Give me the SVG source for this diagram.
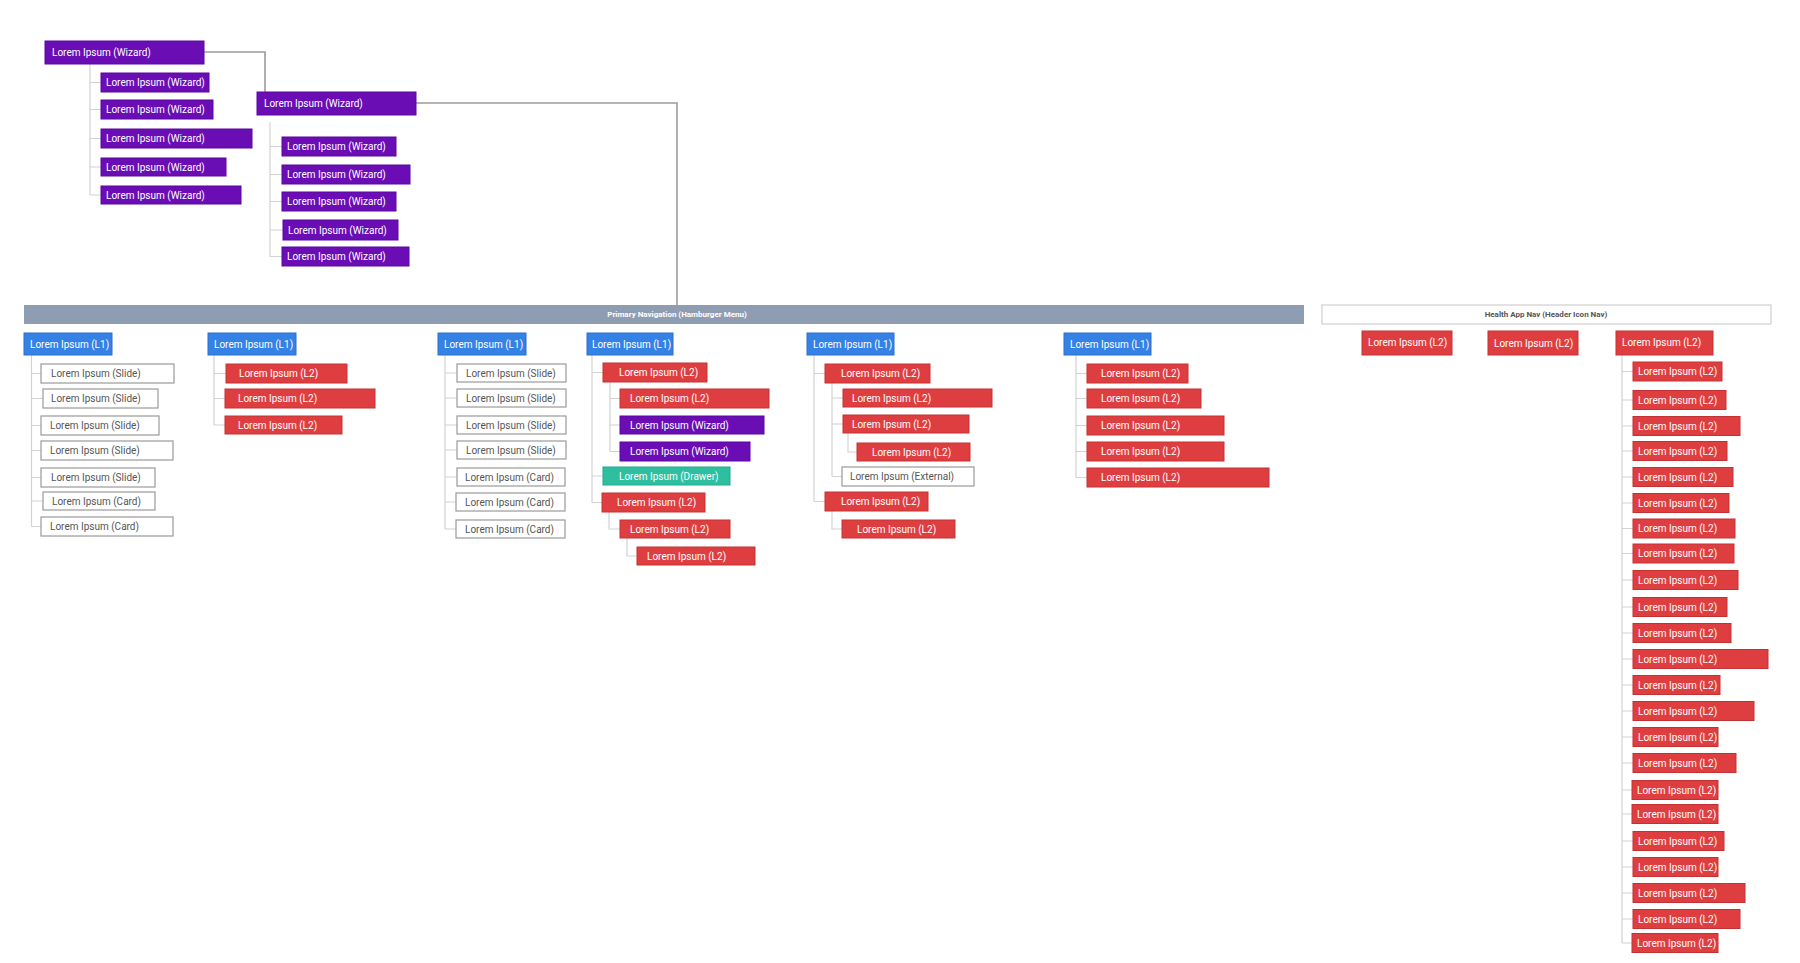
<svg xmlns="http://www.w3.org/2000/svg" width="1800" height="963" viewBox="0 0 1800 963">
<style>
text{font-family:Roboto,"Liberation Sans",Arial,sans-serif;font-size:10px}
.wz rect{fill:#6A0DB5;stroke:#5A089E;stroke-width:1}
.l1 rect{fill:#3582E6;stroke:#2C6FCB;stroke-width:1}
.l2 rect{fill:#DF3E40;stroke:#C23234;stroke-width:1}
.dr rect{fill:#2EBFA0;stroke:#25A88C;stroke-width:1}
.wh rect{fill:#FFFFFF;stroke:#9A9A9A;stroke-width:1.2}
.wz text,.l1 text,.l2 text,.dr text{fill:#FFFFFF}
.wh text{fill:#555555}
.tree{fill:none;stroke:#D2D2D2;stroke-width:1.2}
.main{fill:none;stroke:#9C9C9C;stroke-width:1.6}
.bar text{font-size:8px;font-weight:bold}
</style>
<rect width="1800" height="963" fill="#FFFFFF"/>

<g id="connectors">
<path class="main" d="M204 52H265V92M416 103H677V305"/>
<path class="tree" d="M90 64V195M90 82.5H101M90 109.5H101M90 138.5H101M90 167H101M90 195H101"/>
<path class="tree" d="M270 122V256.5M270 146.5H282M270 174.5H282M270 201.5H282M270 230H283M270 256.5H282"/>
<path class="tree" d="M31.5 355V526.5M31.5 373.5H41M31.5 398.5H43M31.5 425.5H41M31.5 450.5H41M31.5 477.5H41M31.5 501H43M31.5 526.5H41"/>
<path class="tree" d="M214 355V425M214 373.5H226M214 398.5H225M214 425H225"/>
<path class="tree" d="M445 355V529M445 373H457M445 398H457M445 425H457M445 450H457M445 477H457M445 502H456M445 529H456"/>
<path class="tree" d="M592 355V502.5M592 372.5H603M592 476H603M592 502.5H602M610 382V451.5M610 398.5H620M610 425H620M610 451.5H620M609 512V529H620M627 538V556H637"/>
<path class="tree" d="M814 355V501.5M814 373.5H825M814 501.5H825M832 383V476.5M832 398H843M832 424H843M832 476.5H842M848 433V452H857M832 511V529H842"/>
<path class="tree" d="M1076 355V477.5M1076 373.5H1087M1076 398.5H1087M1076 425.5H1087M1076 451.5H1087M1076 477.5H1087"/>
<path class="tree" d="M1622 355V943M1622 371.5H1633M1622 400H1633M1622 426H1633M1622 451H1633M1622 477H1633M1622 503H1633M1622 528.5H1633M1622 553.5H1633M1622 580H1633M1622 607H1633M1622 633H1633M1622 659H1633M1622 685H1633M1622 711H1633M1622 737H1633M1622 763H1633M1622 790H1633M1622 814H1633M1622 841H1633M1622 867H1633M1622 893H1633M1622 919H1633M1622 943H1633"/>
</g>

<!-- top wizard trees -->
<g id="wizard-root" class="wz"><rect x="45" y="41" width="159" height="23"/><text x="52" y="56">Lorem Ipsum (Wizard)</text></g>
<g id="wizard-root-c1" class="wz"><rect x="101" y="73" width="108" height="19"/><text x="106" y="86">Lorem Ipsum (Wizard)</text></g>
<g id="wizard-root-c2" class="wz"><rect x="101" y="100" width="112" height="19"/><text x="106" y="113">Lorem Ipsum (Wizard)</text></g>
<g id="wizard-root-c3" class="wz"><rect x="101" y="129" width="151" height="19"/><text x="106" y="142">Lorem Ipsum (Wizard)</text></g>
<g id="wizard-root-c4" class="wz"><rect x="101" y="158" width="125" height="18"/><text x="106" y="170.5">Lorem Ipsum (Wizard)</text></g>
<g id="wizard-root-c5" class="wz"><rect x="101" y="186" width="140" height="18"/><text x="106" y="198.5">Lorem Ipsum (Wizard)</text></g>

<g id="wizard-2" class="wz"><rect x="257" y="92" width="159" height="23"/><text x="264" y="107">Lorem Ipsum (Wizard)</text></g>
<g id="wizard-2-c1" class="wz"><rect x="282" y="137" width="114" height="19"/><text x="287" y="150">Lorem Ipsum (Wizard)</text></g>
<g id="wizard-2-c2" class="wz"><rect x="282" y="165" width="128" height="19"/><text x="287" y="178">Lorem Ipsum (Wizard)</text></g>
<g id="wizard-2-c3" class="wz"><rect x="282" y="192" width="114" height="19"/><text x="287" y="205">Lorem Ipsum (Wizard)</text></g>
<g id="wizard-2-c4" class="wz"><rect x="283" y="220" width="115" height="20"/><text x="288" y="233.5">Lorem Ipsum (Wizard)</text></g>
<g id="wizard-2-c5" class="wz"><rect x="282" y="247" width="127" height="19"/><text x="287" y="260">Lorem Ipsum (Wizard)</text></g>

<!-- bars -->
<g id="primary-nav" class="bar"><rect x="24" y="305" width="1280" height="19" fill="#8F9DB3"/><text x="677" y="317" text-anchor="middle" fill="#FFFFFF">Primary Navigation (Hamburger Menu)</text></g>
<g id="health-nav" class="bar"><rect x="1322" y="305" width="449" height="19" fill="#FFFFFF" stroke="#CFCFCF" stroke-width="1.2"/><text x="1546" y="317" text-anchor="middle" fill="#555555">Health App Nav (Header Icon Nav)</text></g>

<!-- column 1 -->
<g id="c1-l1" class="l1"><rect x="24" y="333" width="88" height="22"/><text x="30" y="347.5">Lorem Ipsum (L1)</text></g>
<g id="c1-s1" class="wh"><rect x="41" y="364" width="133" height="19"/><text x="51" y="377">Lorem Ipsum (Slide)</text></g>
<g id="c1-s2" class="wh"><rect x="43" y="389" width="115" height="19"/><text x="51" y="402">Lorem Ipsum (Slide)</text></g>
<g id="c1-s3" class="wh"><rect x="41" y="416" width="118" height="19"/><text x="50" y="429">Lorem Ipsum (Slide)</text></g>
<g id="c1-s4" class="wh"><rect x="41" y="441" width="132" height="19"/><text x="50" y="454">Lorem Ipsum (Slide)</text></g>
<g id="c1-s5" class="wh"><rect x="41" y="468" width="114" height="19"/><text x="51" y="481">Lorem Ipsum (Slide)</text></g>
<g id="c1-c6" class="wh"><rect x="43" y="492" width="112" height="18"/><text x="52" y="504.5">Lorem Ipsum (Card)</text></g>
<g id="c1-c7" class="wh"><rect x="41" y="517" width="132" height="19"/><text x="50" y="530">Lorem Ipsum (Card)</text></g>

<!-- column 2 -->
<g id="c2-l1" class="l1"><rect x="208" y="333" width="88" height="22"/><text x="214" y="347.5">Lorem Ipsum (L1)</text></g>
<g id="c2-a" class="l2"><rect x="226" y="364" width="121" height="19"/><text x="239" y="377">Lorem Ipsum (L2)</text></g>
<g id="c2-b" class="l2"><rect x="225" y="389" width="150" height="19"/><text x="238" y="402">Lorem Ipsum (L2)</text></g>
<g id="c2-c" class="l2"><rect x="225" y="416" width="117" height="18"/><text x="238" y="428.5">Lorem Ipsum (L2)</text></g>

<!-- column 3 -->
<g id="c3-l1" class="l1"><rect x="438" y="333" width="88" height="22"/><text x="444" y="347.5">Lorem Ipsum (L1)</text></g>
<g id="c3-s1" class="wh"><rect x="457" y="364" width="109" height="18"/><text x="466" y="376.5">Lorem Ipsum (Slide)</text></g>
<g id="c3-s2" class="wh"><rect x="457" y="389" width="109" height="18"/><text x="466" y="401.5">Lorem Ipsum (Slide)</text></g>
<g id="c3-s3" class="wh"><rect x="457" y="416" width="109" height="18"/><text x="466" y="428.5">Lorem Ipsum (Slide)</text></g>
<g id="c3-s4" class="wh"><rect x="457" y="441" width="109" height="18"/><text x="466" y="453.5">Lorem Ipsum (Slide)</text></g>
<g id="c3-c5" class="wh"><rect x="457" y="468" width="108" height="18"/><text x="465" y="480.5">Lorem Ipsum (Card)</text></g>
<g id="c3-c6" class="wh"><rect x="456" y="493" width="109" height="18"/><text x="465" y="505.5">Lorem Ipsum (Card)</text></g>
<g id="c3-c7" class="wh"><rect x="456" y="520" width="109" height="18"/><text x="465" y="532.5">Lorem Ipsum (Card)</text></g>

<!-- column 4 -->
<g id="c4-l1" class="l1"><rect x="587" y="333" width="86" height="22"/><text x="592" y="347.5">Lorem Ipsum (L1)</text></g>
<g id="c4-a" class="l2"><rect x="603" y="363" width="104" height="19"/><text x="619" y="376">Lorem Ipsum (L2)</text></g>
<g id="c4-a1" class="l2"><rect x="620" y="389" width="149" height="19"/><text x="630" y="402">Lorem Ipsum (L2)</text></g>
<g id="c4-a2" class="wz"><rect x="620" y="416" width="144" height="18"/><text x="630" y="428.5">Lorem Ipsum (Wizard)</text></g>
<g id="c4-a3" class="wz"><rect x="620" y="442" width="130" height="19"/><text x="630" y="455">Lorem Ipsum (Wizard)</text></g>
<g id="c4-b" class="dr"><rect x="603" y="467" width="127" height="18"/><text x="619" y="479.5">Lorem Ipsum (Drawer)</text></g>
<g id="c4-c" class="l2"><rect x="602" y="493" width="103" height="19"/><text x="617" y="506">Lorem Ipsum (L2)</text></g>
<g id="c4-c1" class="l2"><rect x="620" y="520" width="110" height="18"/><text x="630" y="532.5">Lorem Ipsum (L2)</text></g>
<g id="c4-c1a" class="l2"><rect x="637" y="547" width="118" height="18"/><text x="647" y="559.5">Lorem Ipsum (L2)</text></g>

<!-- column 5 -->
<g id="c5-l1" class="l1"><rect x="807" y="333" width="87" height="22"/><text x="813" y="347.5">Lorem Ipsum (L1)</text></g>
<g id="c5-a" class="l2"><rect x="825" y="364" width="105" height="19"/><text x="841" y="377">Lorem Ipsum (L2)</text></g>
<g id="c5-a1" class="l2"><rect x="843" y="389" width="149" height="18"/><text x="852" y="401.5">Lorem Ipsum (L2)</text></g>
<g id="c5-a2" class="l2"><rect x="843" y="415" width="126" height="18"/><text x="852" y="427.5">Lorem Ipsum (L2)</text></g>
<g id="c5-a2a" class="l2"><rect x="857" y="443" width="113" height="18"/><text x="872" y="455.5">Lorem Ipsum (L2)</text></g>
<g id="c5-a3" class="wh"><rect x="842" y="467" width="132" height="19"/><text x="850" y="480">Lorem Ipsum (External)</text></g>
<g id="c5-b" class="l2"><rect x="825" y="492" width="103" height="19"/><text x="841" y="505">Lorem Ipsum (L2)</text></g>
<g id="c5-b1" class="l2"><rect x="842" y="520" width="113" height="18"/><text x="857" y="532.5">Lorem Ipsum (L2)</text></g>

<!-- column 6 -->
<g id="c6-l1" class="l1"><rect x="1064" y="333" width="87" height="22"/><text x="1070" y="347.5">Lorem Ipsum (L1)</text></g>
<g id="c6-a" class="l2"><rect x="1087" y="364" width="101" height="19"/><text x="1101" y="377">Lorem Ipsum (L2)</text></g>
<g id="c6-b" class="l2"><rect x="1087" y="389" width="114" height="19"/><text x="1101" y="402">Lorem Ipsum (L2)</text></g>
<g id="c6-c" class="l2"><rect x="1087" y="416" width="137" height="19"/><text x="1101" y="429">Lorem Ipsum (L2)</text></g>
<g id="c6-d" class="l2"><rect x="1087" y="442" width="137" height="19"/><text x="1101" y="455">Lorem Ipsum (L2)</text></g>
<g id="c6-e" class="l2"><rect x="1087" y="468" width="182" height="19"/><text x="1101" y="481">Lorem Ipsum (L2)</text></g>

<!-- health app nav -->
<g id="h-1" class="l2"><rect x="1362" y="331" width="90" height="24"/><text x="1368" y="346">Lorem Ipsum (L2)</text></g>
<g id="h-2" class="l2"><rect x="1488" y="331" width="90" height="24"/><text x="1494" y="346.5">Lorem Ipsum (L2)</text></g>
<g id="h-3" class="l2"><rect x="1616" y="331" width="97" height="24"/><text x="1622" y="346">Lorem Ipsum (L2)</text></g>
<g id="h-3-01" class="l2"><rect x="1633" y="362" width="89" height="19"/><text x="1638" y="375">Lorem Ipsum (L2)</text></g>
<g id="h-3-02" class="l2"><rect x="1633" y="390.5" width="93" height="19"/><text x="1638" y="403.5">Lorem Ipsum (L2)</text></g>
<g id="h-3-03" class="l2"><rect x="1633" y="416.5" width="107" height="19"/><text x="1638" y="429.5">Lorem Ipsum (L2)</text></g>
<g id="h-3-04" class="l2"><rect x="1633" y="441.5" width="94" height="19"/><text x="1638" y="454.5">Lorem Ipsum (L2)</text></g>
<g id="h-3-05" class="l2"><rect x="1633" y="467.5" width="100" height="19"/><text x="1638" y="480.5">Lorem Ipsum (L2)</text></g>
<g id="h-3-06" class="l2"><rect x="1633" y="493.5" width="96" height="19"/><text x="1638" y="506.5">Lorem Ipsum (L2)</text></g>
<g id="h-3-07" class="l2"><rect x="1633" y="519" width="102" height="19"/><text x="1638" y="532">Lorem Ipsum (L2)</text></g>
<g id="h-3-08" class="l2"><rect x="1633" y="544" width="101" height="19"/><text x="1638" y="557">Lorem Ipsum (L2)</text></g>
<g id="h-3-09" class="l2"><rect x="1633" y="570.5" width="105" height="19"/><text x="1638" y="583.5">Lorem Ipsum (L2)</text></g>
<g id="h-3-10" class="l2"><rect x="1633" y="597.5" width="94" height="19"/><text x="1638" y="610.5">Lorem Ipsum (L2)</text></g>
<g id="h-3-11" class="l2"><rect x="1633" y="623.5" width="98" height="19"/><text x="1638" y="636.5">Lorem Ipsum (L2)</text></g>
<g id="h-3-12" class="l2"><rect x="1633" y="649.5" width="135" height="19"/><text x="1638" y="662.5">Lorem Ipsum (L2)</text></g>
<g id="h-3-13" class="l2"><rect x="1633" y="675.5" width="87" height="19"/><text x="1638" y="688.5">Lorem Ipsum (L2)</text></g>
<g id="h-3-14" class="l2"><rect x="1633" y="701.5" width="121" height="19"/><text x="1638" y="714.5">Lorem Ipsum (L2)</text></g>
<g id="h-3-15" class="l2"><rect x="1633" y="727.5" width="85" height="19"/><text x="1638" y="740.5">Lorem Ipsum (L2)</text></g>
<g id="h-3-16" class="l2"><rect x="1633" y="753.5" width="103" height="19"/><text x="1638" y="766.5">Lorem Ipsum (L2)</text></g>
<g id="h-3-17" class="l2"><rect x="1632" y="780.5" width="86" height="19"/><text x="1637" y="793.5">Lorem Ipsum (L2)</text></g>
<g id="h-3-18" class="l2"><rect x="1632" y="804.5" width="86" height="19"/><text x="1637" y="817.5">Lorem Ipsum (L2)</text></g>
<g id="h-3-19" class="l2"><rect x="1633" y="831.5" width="91" height="19"/><text x="1638" y="844.5">Lorem Ipsum (L2)</text></g>
<g id="h-3-20" class="l2"><rect x="1633" y="857.5" width="85" height="19"/><text x="1638" y="870.5">Lorem Ipsum (L2)</text></g>
<g id="h-3-21" class="l2"><rect x="1633" y="883.5" width="112" height="19"/><text x="1638" y="896.5">Lorem Ipsum (L2)</text></g>
<g id="h-3-22" class="l2"><rect x="1633" y="909.5" width="107" height="19"/><text x="1638" y="922.5">Lorem Ipsum (L2)</text></g>
<g id="h-3-23" class="l2"><rect x="1632" y="933.5" width="86" height="19"/><text x="1637" y="946.5">Lorem Ipsum (L2)</text></g>
</svg>
